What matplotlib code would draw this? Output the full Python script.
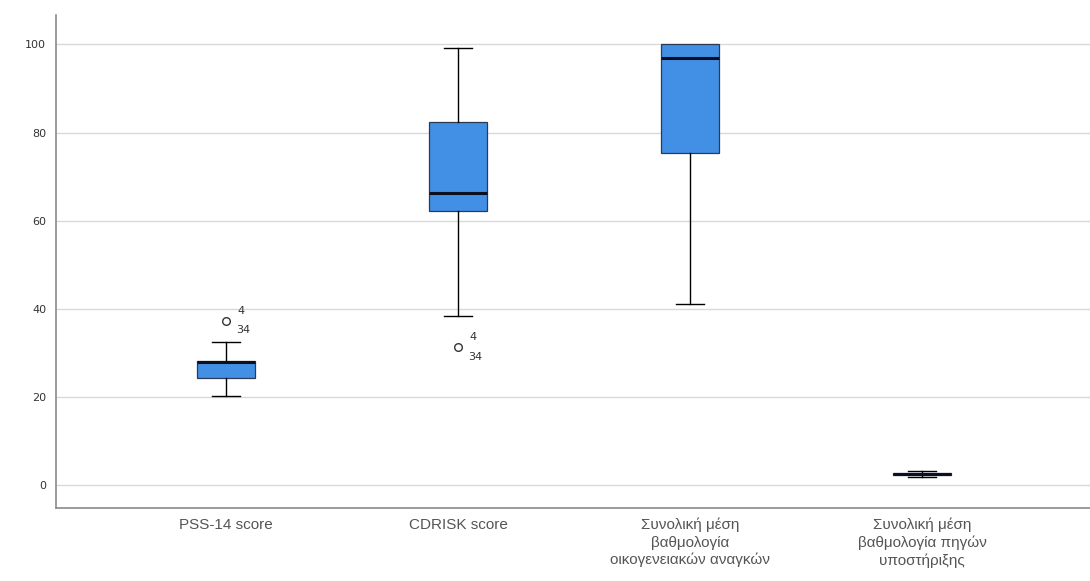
import matplotlib
matplotlib.use("Agg")
import matplotlib.pyplot as plt

# Box plot summary values
categories = [
    "PSS-14 score",
    "CDRISK score",
    "Συνολική μέση\nβαθμολογία\nοικογενειακών αναγκών",
    "Συνολική μέση\nβαθμολογία πηγών\nυποστήριξης",
]
whisker_low = [20.2, 38.3, 41.0, 1.8]
q1 = [24.4, 62.1, 75.4, 2.3]
median = [28.0, 66.2, 97.0, 2.55]
q3 = [28.2, 82.3, 100.0, 2.8]
whisker_high = [32.4, 99.1, 100.0, 3.3]
outliers = [[37.3], [31.3], [], []]
outlier_ids = [("4", "34"), ("4", "34"), None, None]
y_ticks = [0, 20, 40, 60, 80, 100]

box_color = "#428fe6"

fig = plt.figure(figsize=(10.9, 5.81), dpi=100)
ax = fig.add_axes([0.0514, 0.1256, 0.9486, 0.848])

stats = []
for i, name in enumerate(categories):
    stats.append({
        "label": name,
        "whislo": whisker_low[i],
        "q1": q1[i],
        "med": median[i],
        "q3": q3[i],
        "whishi": whisker_high[i],
        "fliers": outliers[i],
    })

positions = list(range(1, len(categories) + 1))
parts = ax.bxp(
    stats, positions=positions, widths=0.25, patch_artist=True,
    boxprops=dict(facecolor=box_color, edgecolor="#2b3a55", linewidth=0.9),
    medianprops=dict(color="#0b1020", linewidth=2.2),
    whiskerprops=dict(color="black", linewidth=1.0),
    capprops=dict(color="black", linewidth=1.0),
    capwidths=0.12,
    flierprops=dict(marker="o", markerfacecolor="none", markeredgecolor="#333333",
                    markersize=5.5, markeredgewidth=1.0),
    zorder=3,
)

# no visible cap where the whisker ends at the box edge
for i in range(len(categories)):
    if whisker_high[i] <= q3[i]:
        parts["caps"][2 * i + 1].set_visible(False)

# outlier case labels
for pos, vals, ids in zip(positions, outliers, outlier_ids):
    if not ids:
        continue
    for v in vals:
        ax.annotate(ids[0], (pos, v), xytext=(8, 7), textcoords="offset points",
                    fontsize=8, color="#333333", ha="left", va="center")
        ax.annotate(ids[1], (pos, v), xytext=(7, -7), textcoords="offset points",
                    fontsize=8, color="#333333", ha="left", va="center")

ax.set_xlim(0.267, 4.724)
ax.set_ylim(-5.2, 106.6)
ax.set_yticks(y_ticks)
ax.set_yticklabels([str(t) for t in y_ticks], fontsize=8, color="#333333")
ax.set_xticks(positions)
ax.set_xticklabels(categories, fontsize=11, color="#555555", linespacing=1.3,
                   family=["Liberation Sans", "DejaVu Sans"])
ax.tick_params(axis="both", length=0)
ax.tick_params(axis="y", pad=7)
ax.tick_params(axis="x", pad=7)

ax.grid(axis="y", color="#d9d9d9", linewidth=1.0, zorder=0)
ax.set_axisbelow(True)
for side in ("top", "right"):
    ax.spines[side].set_visible(False)
for side in ("left", "bottom"):
    ax.spines[side].set_color("#8a8a8a")
    ax.spines[side].set_linewidth(1.2)

fig.savefig("out.png", dpi=100)
